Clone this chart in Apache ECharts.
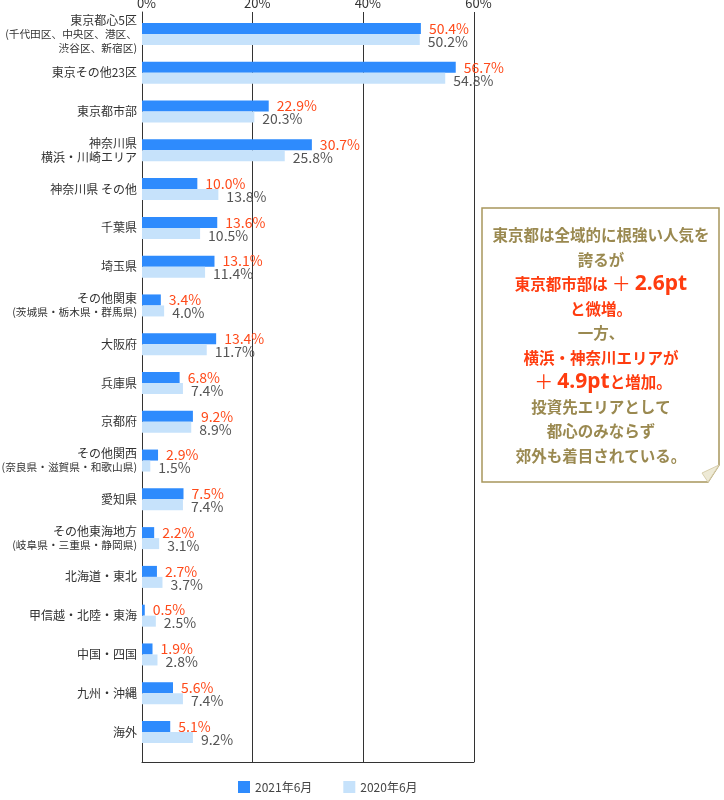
<!DOCTYPE html>
<html>
<head>
<meta charset="utf-8">
<style>
html,body{margin:0;padding:0;background:#fff;}
#chart{width:724px;height:800px;}
</style>
<script src="https://cdn.jsdelivr.net/npm/echarts@6/dist/echarts.min.js"></script>
</head>
<body>
<div id="chart"></div>
<script>
var categories = [
  '東京都心5区\n(千代田区、中央区、港区、\n渋谷区、新宿区)',
  '東京その他23区',
  '東京都市部',
  '神奈川県\n横浜・川崎エリア',
  '神奈川県 その他',
  '千葉県',
  '埼玉県',
  'その他関東\n(茨城県・栃木県・群馬県)',
  '大阪府',
  '兵庫県',
  '京都府',
  'その他関西\n(奈良県・滋賀県・和歌山県)',
  '愛知県',
  'その他東海地方\n(岐阜県・三重県・静岡県)',
  '北海道・東北',
  '甲信越・北陸・東海',
  '中国・四国',
  '九州・沖縄',
  '海外'
];
var seriesNames = ['2021年6月', '2020年6月'];
var values2021 = [50.4, 56.7, 22.9, 30.7, 10.0, 13.6, 13.1, 3.4, 13.4, 6.8, 9.2, 2.9, 7.5, 2.2, 2.7, 0.5, 1.9, 5.6, 5.1];
var values2020 = [50.2, 54.8, 20.3, 25.8, 13.8, 10.5, 11.4, 4.0, 11.7, 7.4, 8.9, 1.5, 7.4, 3.1, 3.7, 2.5, 2.8, 7.4, 9.2];
var axisMin = 0, axisMax = 60, axisInterval = 20;

var FONT = '"Noto Sans CJK JP", "Noto Sans", sans-serif';
var GOLD = '#9a8950';
var RED = '#ff3c0f';
var chart = echarts.init(document.getElementById('chart'), null, {renderer: 'canvas'});

function catFormatter(v) {
  return v.split('\n').map(function (line) {
    return /[()]/.test(line) ? '{s|' + line + '}' : '{n|' + line + '}';
  }).join('\n');
}

var option = {
  backgroundColor: '#fff',
  animation: false,
  textStyle: {fontFamily: FONT},
  grid: [
    {left: 142, right: 250, top: 12, bottom: 38, containLabel: false, outerBoundsMode: 'none'},
    {left: 142, right: 250, top: 14.6, bottom: 48.6, containLabel: false, outerBoundsMode: 'none'}
  ],
  xAxis: [
    {
      gridIndex: 0, type: 'value', position: 'top', min: axisMin, max: axisMax, interval: axisInterval,
      axisLine: {show: false}, axisTick: {show: false},
      axisLabel: {formatter: '{value}%', color: '#333', fontSize: 13, fontFamily: FONT, margin: 2, padding: [0, 0, 0, 9]},
      splitLine: {show: true, lineStyle: {color: '#333', width: 1}}
    },
    {
      gridIndex: 0, type: 'value', position: 'bottom', min: axisMin, max: axisMax, interval: axisInterval,
      axisLine: {show: true, lineStyle: {color: '#333', width: 1}}, axisTick: {show: false},
      axisLabel: {show: false}, splitLine: {show: false}
    },
    {
      gridIndex: 1, type: 'value', min: axisMin, max: axisMax, show: false
    }
  ],
  yAxis: [
    {
      gridIndex: 0, type: 'value', min: 0, max: 1,
      axisLine: {show: true, lineStyle: {color: '#333', width: 1}}, axisTick: {show: false},
      axisLabel: {show: false}, splitLine: {show: false}
    },
    {
      gridIndex: 1, type: 'category', inverse: true, data: categories,
      axisLine: {show: false}, axisTick: {show: false},
      axisLabel: {
        margin: 5, color: '#333', formatter: catFormatter,
        rich: {
          n: {fontSize: 12, lineHeight: 13.5, color: '#333', fontFamily: FONT, align: 'right'},
          s: {fontSize: 10.7, lineHeight: 13.5, color: '#333', fontFamily: FONT, align: 'right'}
        }
      }
    }
  ],
  legend: {
    left: 233, top: 776, itemWidth: 12, itemHeight: 12, itemGap: 31, icon: 'rect',
    textStyle: {fontSize: 12, color: '#444', fontFamily: FONT},
    data: seriesNames
  },
  series: [
    {
      name: seriesNames[0], type: 'bar', xAxisIndex: 2, yAxisIndex: 1,
      data: values2021, barWidth: 11, barGap: '0%',
      itemStyle: {color: '#2e8bfd'},
      label: {show: true, position: 'right', distance: 8, color: '#ff4a1a', fontSize: 14, fontFamily: FONT,
        formatter: function (p) { return p.value.toFixed(1) + '%'; }}
    },
    {
      name: seriesNames[1], type: 'bar', xAxisIndex: 2, yAxisIndex: 1,
      data: values2020, barWidth: 11, barGap: '0%',
      itemStyle: {color: '#c6e2fb'},
      label: {show: true, position: 'right', distance: 8, color: '#555', fontSize: 14, fontFamily: FONT, offset: [0, 2],
        formatter: function (p) { return p.value.toFixed(1) + '%'; }}
    }
  ],
  graphic: [
    {
      type: 'polygon', z: 10,
      shape: {points: [[482, 208], [719, 208], [719, 465], [708, 482], [482, 482]]},
      style: {fill: '#fff', stroke: '#a8975c', lineWidth: 1.5}
    },
    {
      type: 'polygon', z: 11,
      shape: {points: [[719, 465], [702, 473], [708, 482]]},
      style: {fill: '#eeead6', stroke: '#d8cfae', lineWidth: 1}
    },
    {
      type: 'text', z: 12, x: 601, y: 223,
      style: {
        align: 'center', verticalAlign: 'top',
        text: [
          '{g|東京都は全域的に根強い人気を}',
          '{g|誇るが}',
          '{r|東京都市部は}{rp|＋}{rb|2.6pt}',
          '{r|と微増。}',
          '{g|一方、}',
          '{r|横浜・神奈川エリアが}',
          '{rp|＋}{rb|4.9pt}{r|と増加。}',
          '{g|投資先エリアとして}',
          '{g|都心のみならず}',
          '{g|郊外も着目されている。}'
        ].join('\n'),
        rich: {
          g: {fontSize: 15.5, fontWeight: 'bold', fill: GOLD, fontFamily: FONT, lineHeight: 24.5},
          r: {fontSize: 15.5, fontWeight: 'bold', fill: RED, fontFamily: FONT, lineHeight: 24.5},
          rp: {fontSize: 19, fill: RED, fontFamily: FONT, lineHeight: 24.5, padding: [0, 4, 0, 4]},
          rb: {fontSize: 21, fontWeight: 'bold', fill: RED, fontFamily: '"Noto Sans", sans-serif', lineHeight: 24.5}
        }
      }
    }
  ]
};
chart.setOption(option);
</script>
</body>
</html>
